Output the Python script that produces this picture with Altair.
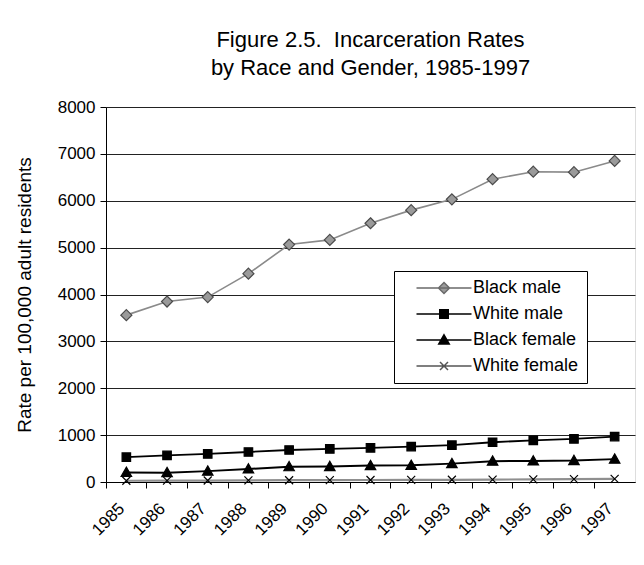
import altair as alt
import pandas as pd

years = ["1985", "1986", "1987", "1988", "1989", "1990", "1991",
         "1992", "1993", "1994", "1995", "1996", "1997"]
black_male = [3560, 3850, 3945, 4445, 5065, 5165, 5520, 5800, 6030, 6460, 6620, 6610, 6850]
white_male = [530, 568, 598, 640, 683, 705, 728, 755, 785, 848, 890, 920, 970]
black_female = [205, 200, 232, 278, 325, 330, 350, 355, 392, 445, 448, 458, 488]
white_female = [27, 29, 31, 35, 38, 40, 43, 45, 47, 51, 57, 60, 66]
series_names = ["Black male", "White male", "Black female", "White female"]

rows = []
for name, vals in zip(series_names, [black_male, white_male, black_female, white_female]):
    for yr, v in zip(years, vals):
        rows.append({"year": yr, "rate": v, "series": name})
df = pd.DataFrame(rows)

FONT = "Liberation Sans"

line_colors = ["#8a8a8a", "#000000", "#000000", "#8f8f8f"]
line_widths = [1.6, 2.2, 2.6, 1.2]
pt_fill = ["#9a9a9a", "#000000", "#000000", "transparent"]
pt_stroke = ["#4a4a4a", "#000000", "#000000", "#000000"]
pt_shapes = [
    "M0,-1.1L1.1,0L0,1.1L-1.1,0Z",
    "M-0.85,-0.85L0.85,-0.85L0.85,0.85L-0.85,0.85Z",
    "M0,-1.05L1.05,0.8L-1.05,0.8Z",
    "M-0.8,-0.8L0.8,0.8M-0.8,0.8L0.8,-0.8",
]
lg_shapes = ["M-5.5,0L5.5,0" + s for s in pt_shapes]
lg_stroke = ["#6a6a6a", "#000000", "#000000", "#555555"]

x_enc = alt.X(
    "year:O",
    sort=years,
    scale=alt.Scale(type="band", paddingInner=0, paddingOuter=0),
    bandPosition=0.5,
    axis=alt.Axis(
        title=None, bandPosition=0, labelAngle=-45, labelOffset=-10,
        labelPadding=12, tickSize=6, tickColor="black", domainColor="black",
        labelFontSize=17, grid=False,
    ),
)
y_enc = alt.Y(
    "rate:Q",
    scale=alt.Scale(domain=[0, 8000], nice=False),
    axis=alt.Axis(
        title="Rate per 100,000 adult residents", values=list(range(0, 8001, 1000)),
        format="d",
        tickSize=6, tickColor="black", domainColor="black", labelFontSize=17,
        labelPadding=5, grid=True, gridColor="#222222", gridWidth=1,
        titleFontSize=19, titleFontWeight="normal", titlePadding=23,
    ),
)

lines = alt.Chart(df).mark_line().encode(
    x=x_enc, y=y_enc,
    color=alt.Color("series:N", scale=alt.Scale(domain=series_names, range=line_colors), legend=None),
    strokeWidth=alt.StrokeWidth("series:N", scale=alt.Scale(domain=series_names, range=line_widths), legend=None),
)

points = alt.Chart(df).mark_point(opacity=1, size=100, strokeWidth=1.2).encode(
    x=x_enc, y=y_enc,
    shape=alt.Shape("series:N", scale=alt.Scale(domain=series_names, range=pt_shapes), legend=None),
    fill=alt.Fill("series:N", scale=alt.Scale(domain=series_names, range=pt_fill), legend=None),
    stroke=alt.Stroke("series:N", scale=alt.Scale(domain=series_names, range=pt_stroke), legend=None),
)

leg = dict(title=None, orient="none", legendX=288, legendY=164, padding=8,
           fillColor="white", strokeColor="black", labelFontSize=18,
           labelFont=FONT, labelColor="black", symbolSize=100, symbolStrokeWidth=1.5,
           symbolOffset=33, labelOffset=20, rowPadding=8, symbolType="circle")

legend_layer = alt.Chart(df).transform_filter(alt.datum.rate < 0).mark_point(
    opacity=1, size=100, strokeWidth=1.5).encode(
    x=x_enc, y=y_enc,
    shape=alt.Shape("series:N", sort=series_names,
                    scale=alt.Scale(domain=series_names, range=lg_shapes), legend=alt.Legend(**leg)),
    fill=alt.Fill("series:N", sort=series_names,
                  scale=alt.Scale(domain=series_names, range=pt_fill), legend=alt.Legend(**leg)),
    stroke=alt.Stroke("series:N", sort=series_names,
                      scale=alt.Scale(domain=series_names, range=lg_stroke), legend=alt.Legend(**leg)),
)

chart = alt.layer(lines, points, legend_layer).resolve_scale(
    shape="independent", fill="independent", stroke="independent"
).properties(
    width=529, height=375,
    autosize=alt.AutoSizeParams(type="none"),
    padding={"left": 98, "top": 99, "right": 1, "bottom": 75},
    title=alt.Title(
        ["Figure 2.5.\u00a0 Incarceration Rates", "by Race and Gender, 1985-1997"],
        fontSize=22, font=FONT, fontWeight="normal", lineHeight=28,
        frame="group", anchor="middle", offset=18, color="black",
    ),
).configure_view(stroke="black", strokeWidth=1.5).configure_axis(
    labelFont=FONT, titleFont=FONT, labelColor="black", titleColor="black",
).configure(background="white")

chart.save("out.html", embed_options={"renderer": "svg", "actions": False})
